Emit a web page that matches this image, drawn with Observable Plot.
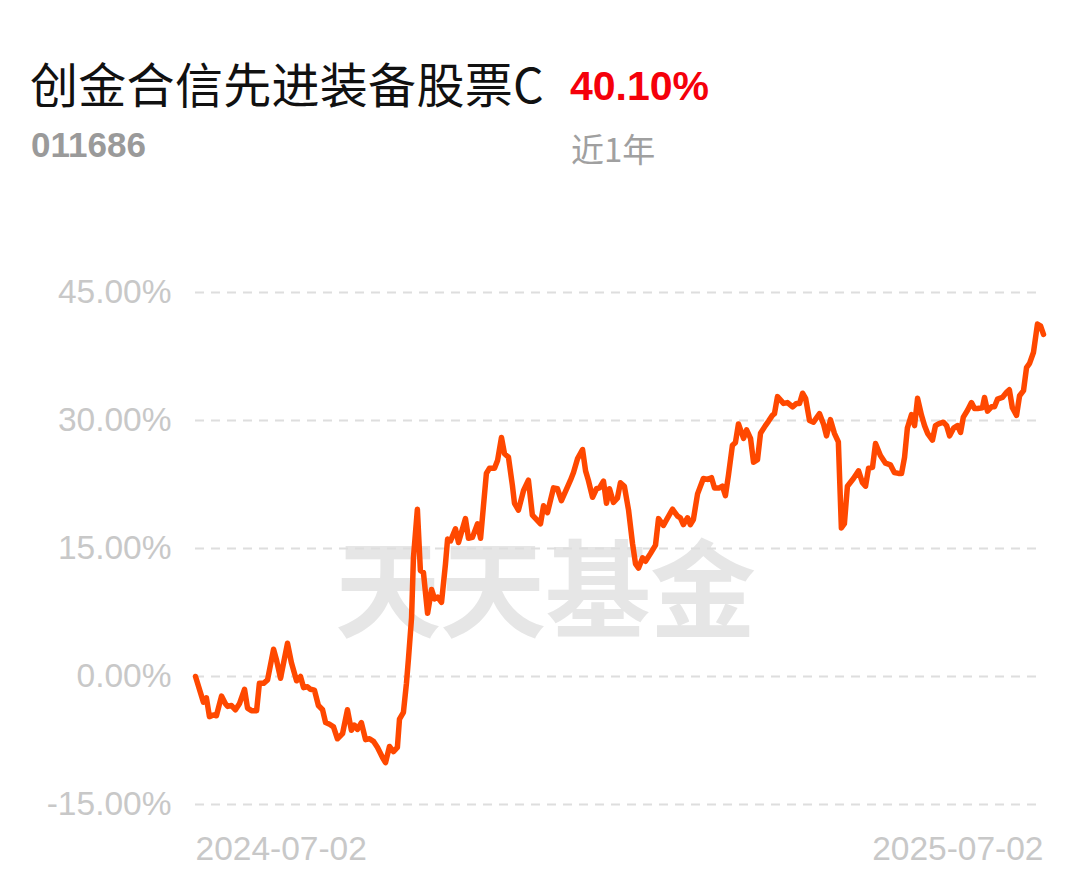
<!DOCTYPE html>
<html>
<head>
<meta charset="utf-8">
<script src="https://cdn.jsdelivr.net/npm/d3@7"></script>
<script src="https://cdn.jsdelivr.net/npm/@observablehq/plot@0.6"></script>
<style>
  html, body { margin: 0; padding: 0; background: #fff; }
  #wrap { position: relative; width: 1089px; height: 881px; overflow: hidden; font-family: "Liberation Sans", "Noto Sans CJK SC", sans-serif; }
  .abs { position: absolute; white-space: nowrap; }
  #title { left: 30px; top: 58px; font-size: 48px; color: #111; font-family: "Noto Sans CJK SC", sans-serif; line-height: 1; letter-spacing: 0.3px; }
  #ret { left: 570px; top: 66px; font-size: 41px; color: #f5000a; font-weight: bold; line-height: 1; }
  #code { left: 31px; top: 127px; font-size: 35px; color: #9a9a9a; font-weight: bold; line-height: 1; }
  #period { left: 571px; top: 132px; font-size: 33px; color: #a0a0a0; font-family: "Noto Sans CJK SC", sans-serif; line-height: 1; }
  #wm { left: 335px; top: 530px; font-size: 106px; color: #e6e6e6; font-weight: 700; font-family: "Noto Sans CJK SC", sans-serif; line-height: 1; letter-spacing: -1px; }
  #chart { position: absolute; left: 0; top: 250px; }
</style>
</head>
<body>
<div id="wrap">
  <div id="wm" class="abs">天天基金</div>
  <div id="title" class="abs">创金合信先进装备股票C</div>
  <div id="ret" class="abs">40.10%</div>
  <div id="code" class="abs">011686</div>
  <div id="period" class="abs">近1年</div>
  <div id="chart"></div>
</div>
<script>
// Days since 2024-07-02 for each reading
const days = [0.0,3.4,4.7,6.0,7.7,9.0,11.2,12.9,13.8,15.5,17.2,18.9,21.1,22.4,24.1,26.3,27.5,29.3,31.0,33.6,34.9,36.6,39.6,41.3,43.5,45.2,46.5,48.2,49.5,51.2,52.9,54.7,56.0,57.7,59.4,61.1,63.3,65.4,67.1,68.4,69.7,71.4,73.2,74.9,76.6,78.3,80.5,81.8,83.5,85.2,86.9,87.8,89.5,90.8,91.7,93.0,93.8,95.5,96.8,98.1,99.9,101.6,102.9,104.2,105.9,107.6,108.5,109.8,111.9,113.2,116.2,117.5,119.2,121.4,122.7,125.2,126.5,128.7,130.0,131.7,133.0,134.7,136.4,137.3,139.0,141.2,143.3,145.0,148.5,149.8,151.5,154.1,155.8,157.5,161.4,162.7,164.4,166.6,167.9,169.1,170.9,172.6,173.9,175.6,176.9,178.2,179.9,181.6,182.9,184.6,186.4,188.1,189.4,190.7,192.4,193.7,195.8,198.0,199.3,201.4,205.3,207.5,208.7,210.0,211.8,213.0,214.3,216.1,218.6,220.4,222.1,223.4,225.5,226.8,228.1,229.4,231.1,232.4,233.7,235.9,237.2,238.9,240.2,241.9,243.2,245.3,246.6,248.3,249.2,250.5,253.1,254.8,257.0,258.7,260.0,261.3,262.6,264.3,266.0,268.6,270.3,271.6,273.3,275.0,276.7,278.0,279.3,280.6,283.2,285.4,287.1,288.4,289.7,291.4,292.7,294.8,297.0,299.1,300.8,302.6,303.9,305.2,306.4,308.2,309.5,310.8,312.5,313.8,315.1,317.2,318.5,319.8,321.9,323.3,324.6,326.3,328.0,329.3,330.5,332.3,334.0,335.3,336.6,338.7,339.6,340.9,342.6,343.9,345.2,347.3,349.1,350.3,351.6,353.4,354.7,356.4,357.7,359.0,360.7,362.4,363.7,365.0];
// Cumulative return, percent
const returns = [0.0,-3.0,-2.5,-4.7,-4.5,-4.6,-2.3,-3.2,-3.5,-3.4,-3.9,-3.2,-1.5,-3.7,-4.0,-4.0,-0.8,-0.8,-0.4,3.2,1.9,-0.2,3.9,1.6,-0.5,0.0,-1.3,-1.2,-1.5,-1.6,-3.4,-3.9,-5.4,-5.6,-5.9,-7.3,-6.7,-3.9,-6.3,-5.7,-6.2,-5.4,-7.4,-7.3,-7.6,-8.3,-9.5,-10.1,-8.2,-8.8,-8.3,-5.0,-4.2,-0.8,2.2,6.9,13.9,19.6,12.4,12.2,7.4,10.2,9.1,9.3,8.7,13.2,16.1,15.9,17.3,15.7,18.5,16.2,16.3,17.9,16.2,23.8,24.4,24.4,25.3,28.0,26.1,25.7,22.4,20.3,19.5,21.8,23.0,18.9,17.9,20.0,19.2,22.1,22.0,20.6,23.0,23.9,25.5,26.6,24.1,23.0,21.0,22.0,22.1,22.9,20.3,22.0,20.4,20.9,22.7,22.3,19.5,15.6,13.2,12.7,13.9,13.5,14.4,15.4,18.5,17.7,19.6,18.8,18.6,17.8,18.6,17.8,18.4,21.4,23.2,23.1,23.3,22.1,22.1,22.3,21.2,23.6,27.1,27.4,29.6,27.9,28.9,27.9,25.1,25.4,28.5,29.4,29.9,30.6,30.8,32.8,32.0,32.1,31.6,32.0,32.0,33.2,32.6,30.0,29.8,30.8,29.6,28.2,30.1,28.5,27.5,17.4,17.9,22.3,23.2,24.1,22.7,22.3,24.4,24.5,27.3,25.9,25.0,24.8,23.9,23.8,23.8,25.7,29.1,30.7,29.4,32.6,30.6,29.4,28.5,27.7,29.4,29.6,29.8,29.4,28.2,29.1,29.4,28.6,30.4,31.2,32.1,31.4,31.4,31.5,32.7,31.1,31.6,31.6,32.5,32.7,33.3,33.6,31.5,30.6,32.9,33.5,36.2,36.7,38.0,41.3,41.1,40.1];
const yTicks = [-15, 0, 15, 30, 45];
const xTickDays = [0, 365];
const xTickLabels = ["2024-07-02", "2025-07-02"];

const data = days.map((d, i) => ({day: d, ret: returns[i]}));

const chart = Plot.plot({
  width: 1089,
  height: 631,
  marginLeft: 195,
  marginRight: 46,
  marginTop: 42,
  marginBottom: 77,
  style: {fontFamily: "Liberation Sans, sans-serif", background: "transparent", overflow: "visible"},
  x: {domain: [0, 365]},
  y: {domain: [-15, 45]},
  marks: [
    Plot.gridY(yTicks, {stroke: "#dedede", strokeOpacity: 1, strokeWidth: 2, strokeDasharray: "9,7"}),
    Plot.axisY(yTicks, {tickSize: 0, tickPadding: 24, fontSize: 33.5, fill: "#c8c8c8", tickFormat: d => d.toFixed(2) + "%", label: null}),
    Plot.axisX([xTickDays[0]], {tickSize: 0, tickPadding: 32, fontSize: 33.5, fill: "#c8c8c8", textAnchor: "start", tickFormat: () => xTickLabels[0], label: null}),
    Plot.axisX([xTickDays[1]], {tickSize: 0, tickPadding: 32, fontSize: 33.5, fill: "#c8c8c8", textAnchor: "end", tickFormat: () => xTickLabels[1], label: null}),
    Plot.line(data, {x: "day", y: "ret", stroke: "#ff4800", strokeWidth: 5.5, strokeLinejoin: "round", strokeLinecap: "round"})
  ]
});
document.getElementById("chart").appendChild(chart);
</script>
</body>
</html>
